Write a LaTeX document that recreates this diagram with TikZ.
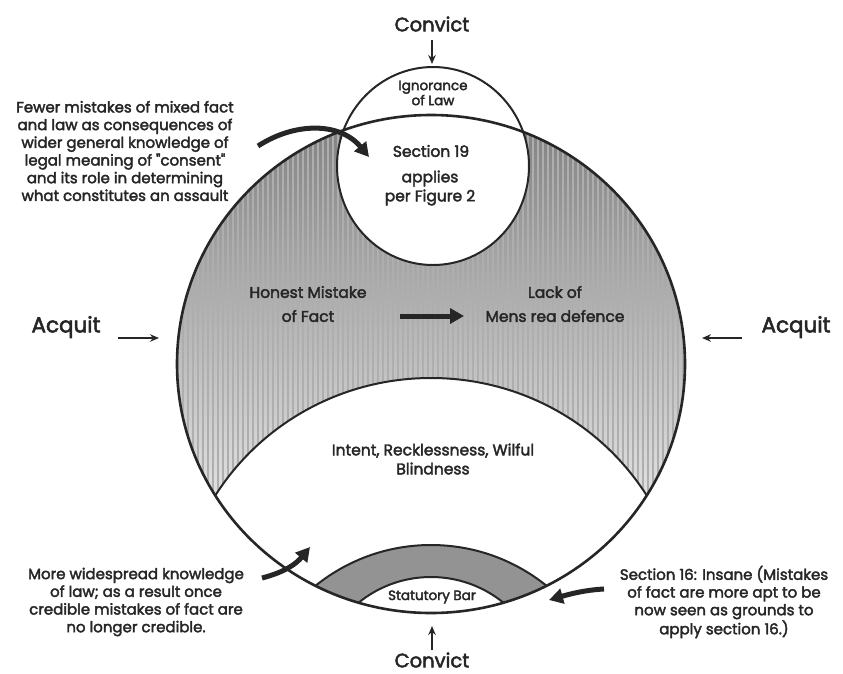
\documentclass[tikz,border=0pt]{standalone}
\usepackage{fontspec}
\setmainfont{Poppins}[FakeBold=2.5]
\usetikzlibrary{arrows.meta}
\definecolor{shade}{HTML}{B6B6B6}
\definecolor{stripe}{HTML}{AEAEAE}
\definecolor{darkshade}{HTML}{939393}
\definecolor{ink}{HTML}{262626}
\tikzset{
  outline/.style={draw=ink, line width=2pt},
  bigoutline/.style={draw=ink, line width=2.6pt},
  thinarrow/.style={draw=ink, line width=1.8pt, -{Stealth[length=9pt,width=7.5pt]}},
  fatarrow/.style={draw=ink, line width=5pt, -{Triangle[length=14pt,width=15pt]}},
  bigtxt/.style={text=ink, inner sep=0pt, font=\fontsize{19.5}{22}\selectfont},
  acqtxt/.style={text=ink, inner sep=0pt, font=\fontsize{21.5}{24}\selectfont},
  lbl/.style={text=ink, inner sep=0pt, align=center, font=\fontsize{15.5}{18}\selectfont},
  smalllbl/.style={text=ink, inner sep=0pt, align=center, font=\fontsize{13.5}{15}\selectfont},
  note/.style={text=ink, inner sep=0pt, align=center, font=\fontsize{15}{17.7}\selectfont},
}
\begin{document}
\begin{tikzpicture}[x=1pt,y=-1pt]
\useasboundingbox (0,0) rectangle (843,673);
% ---- regions ----
\fill[shade] (431,364) ellipse [x radius=254pt, y radius=249pt];
\begin{scope}
  \clip (431,364) ellipse [x radius=254pt, y radius=249pt];
  \foreach \i in {0,...,102} {\draw[stripe, line width=1.2pt] (178+5*\i,110) -- (178+5*\i,620);}
  \fill[white] (433,166) ellipse [x radius=96pt, y radius=99pt];
  \fill[white] (431,627) ellipse [x radius=254pt, y radius=249pt];
  \fill[darkshade] (431,729) circle [radius=184pt];
  \fill[white] (431,692) circle [radius=115pt];
  \draw[outline] (431,627) ellipse [x radius=254pt, y radius=249pt];
  \draw[outline] (431,729) circle [radius=184pt];
  \draw[outline] (431,692) circle [radius=115pt];
\end{scope}
\draw[bigoutline] (431,364) ellipse [x radius=254pt, y radius=249pt];
\draw[outline] (433,166) ellipse [x radius=96pt, y radius=99pt];
% ---- texts ----
\node[bigtxt] (convtop) at (432,24) {Convict};
\node[bigtxt] (convbot) at (432,660) {Convict};
\node[acqtxt] (acqL) at (66,327) {Acquit};
\node[acqtxt] (acqR) at (796,327) {Acquit};
\node[smalllbl] (ign) at (433,93) {Ignorance\\of Law};
\node[lbl] (sec19) at (431,151) {Section 19};
\node[lbl, font=\fontsize{15.5}{19}\selectfont] (applies) at (430,188) {applies\\per Figure 2};
\node[lbl, font=\fontsize{15.5}{24}\selectfont] (honest) at (308,304) {Honest Mistake\\of Fact};
\node[lbl, font=\fontsize{15.5}{24}\selectfont] (lack) at (555,304) {Lack of\\Mens rea defence};
\node[lbl, font=\fontsize{15.5}{19}\selectfont] (intent) at (433,459) {Intent, Recklessness, Wilful\\Blindness};
\node[smalllbl] (statbar) at (432,597) {Statutory Bar};
\node[note] (fewer) at (125,151) {Fewer mistakes of mixed fact\\and law as consequences of\\wider general knowledge of\\legal meaning of \textquotedbl consent\textquotedbl\\and its role in determining\\what constitutes an assault};
\node[note] (more) at (136,602) {More widespread knowledge\\of law; as a result once\\credible mistakes of fact are\\no longer credible.};
\node[note] (s16) at (724,602) {Section 16: Insane (Mistakes\\of fact are more apt to be\\now seen as grounds to\\apply section 16.)};
% ---- connectors ----
\coordinate (ctopA) at (432,40);
\coordinate (ctopB) at (432,64);
\coordinate (cbotA) at (432,650);
\coordinate (cbotB) at (432,626);
\coordinate (aLA) at (118,338);
\coordinate (aLB) at (159,338);
\coordinate (aRA) at (742,338);
\coordinate (aRB) at (702,338);
\coordinate (midA) at (400,316);
\coordinate (midB) at (464,316);
\coordinate (tlA) at (258,146);
\coordinate (tlB) at (369,157);
\coordinate (blA) at (262,578);
\coordinate (blB) at (310,547);
\coordinate (brA) at (604,589);
\coordinate (brB) at (549,600);
\draw[thinarrow] (ctopA) -- (ctopB);
\draw[thinarrow] (cbotA) -- (cbotB);
\draw[thinarrow] (aLA) -- (aLB);
\draw[thinarrow] (aRA) -- (aRB);
\draw[fatarrow] (midA) -- (midB);
\draw[fatarrow] (tlA) .. controls (295,122) and (340,122) .. (tlB);
\draw[fatarrow] (blA) .. controls (285,572) and (296,564) .. (blB);
\draw[fatarrow] (brA) .. controls (585,590) and (570,594) .. (brB);
\end{tikzpicture}
\end{document}
